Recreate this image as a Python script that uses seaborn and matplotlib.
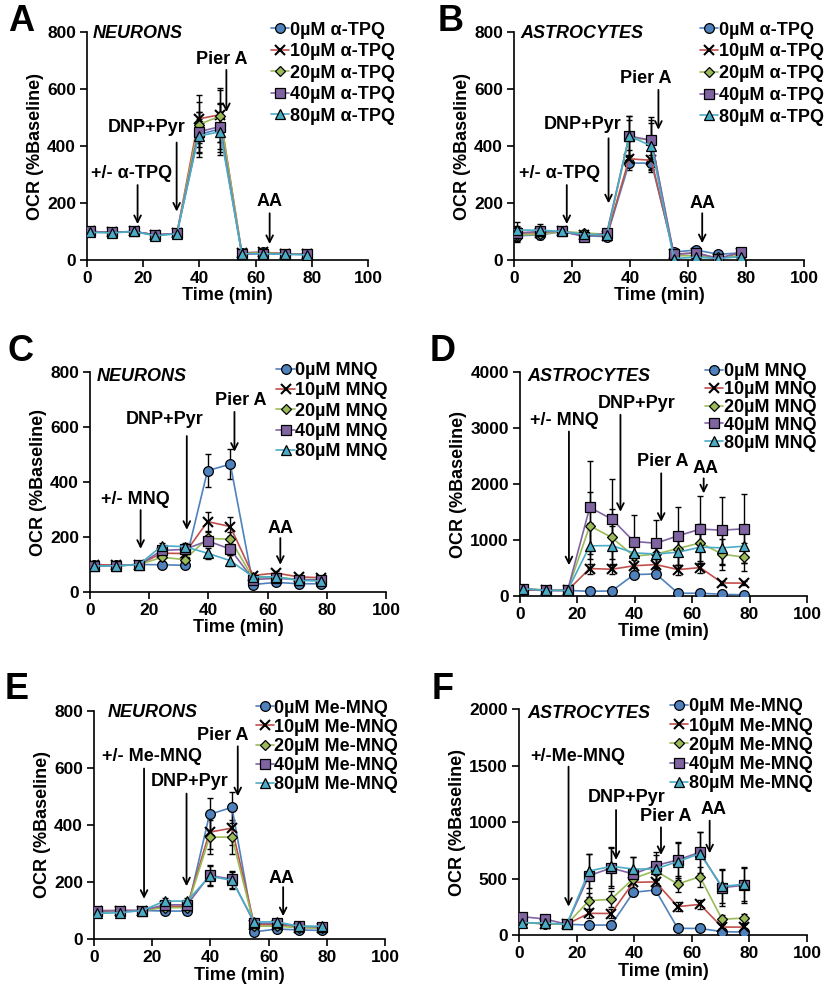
import matplotlib
matplotlib.use("Agg")
import matplotlib.pyplot as plt
import pandas as pd
import seaborn as sns

# measurement times (min), shared by every panel
times = [1.2, 8.9, 16.6, 24.3, 32.0, 39.7, 47.4, 55.1, 62.8, 70.5, 78.2]
doses = ["0µM", "10µM", "20µM", "40µM", "80µM"]
colors = ["#4F81BD", "#C0504D", "#9BBB59", "#8064A2", "#4BACC6"]
marker_list = ["o", "X", "D", "s", "^"]

# panel A - neurons, alpha-TPQ
a_mean = {
    "0µM":  [100, 97, 100, 88, 93, 440, 460, 25, 27, 22, 20],
    "10µM": [100, 97, 100, 88, 93, 495, 510, 25, 27, 22, 20],
    "20µM": [98, 96, 100, 87, 92, 475, 505, 22, 25, 21, 20],
    "40µM": [100, 97, 100, 88, 93, 450, 468, 20, 22, 20, 20],
    "80µM": [97, 95, 100, 85, 92, 435, 450, 22, 22, 20, 18],
}
a_err = {
    "0µM":  [8, 6, 4, 6, 6, 80, 90, 6, 6, 5, 5],
    "10µM": [8, 6, 4, 6, 6, 85, 95, 6, 6, 5, 5],
    "20µM": [8, 6, 4, 6, 6, 80, 90, 6, 6, 5, 5],
    "40µM": [8, 6, 4, 6, 6, 70, 80, 6, 6, 5, 5],
    "80µM": [8, 6, 4, 6, 6, 60, 70, 6, 6, 5, 5],
}

# panel B - astrocytes, alpha-TPQ
b_mean = {
    "0µM":  [85, 88, 100, 85, 82, 340, 340, 28, 35, 20, 25],
    "10µM": [95, 95, 100, 88, 85, 355, 350, 20, 25, 5, 25],
    "20µM": [88, 90, 100, 95, 90, 430, 420, 15, 15, 10, 15],
    "40µM": [95, 100, 100, 82, 95, 435, 420, 20, 25, 5, 28],
    "80µM": [105, 105, 100, 90, 88, 435, 400, 5, 10, 5, 12],
}
b_err = {
    "0µM":  [20, 15, 5, 10, 10, 25, 30, 8, 8, 6, 8],
    "10µM": [20, 15, 5, 10, 10, 30, 35, 8, 8, 6, 8],
    "20µM": [25, 15, 5, 10, 10, 60, 70, 8, 8, 6, 8],
    "40µM": [25, 15, 5, 10, 10, 70, 80, 8, 8, 6, 8],
    "80µM": [30, 20, 5, 10, 10, 70, 80, 8, 8, 6, 8],
}

# panel C - neurons, MNQ
c_mean = {
    "0µM":  [100, 97, 100, 99, 97, 441, 465, 27, 35, 30, 30],
    "10µM": [100, 97, 100, 141, 140, 256, 238, 60, 69, 55, 52],
    "20µM": [95, 95, 100, 126, 118, 195, 192, 50, 55, 45, 45],
    "40µM": [95, 95, 100, 151, 155, 186, 156, 45, 50, 45, 45],
    "80µM": [95, 95, 100, 168, 165, 141, 114, 55, 55, 42, 40],
}
c_err = {
    "0µM":  [6, 5, 3, 5, 5, 60, 55, 5, 5, 5, 5],
    "10µM": [6, 5, 3, 12, 12, 35, 35, 8, 8, 6, 6],
    "20µM": [6, 5, 3, 12, 12, 25, 25, 8, 8, 6, 6],
    "40µM": [6, 5, 3, 12, 12, 20, 20, 8, 8, 6, 6],
    "80µM": [6, 5, 3, 12, 12, 20, 20, 8, 8, 6, 6],
}

# panel D - astrocytes, MNQ
d_mean = {
    "0µM":  [110, 100, 100, 84, 90, 382, 394, 48, 50, 30, 20],
    "10µM": [110, 100, 100, 490, 478, 540, 561, 472, 507, 233, 230],
    "20µM": [130, 110, 100, 1254, 1045, 710, 750, 848, 949, 746, 693],
    "40µM": [130, 100, 100, 1582, 1373, 973, 943, 1075, 1194, 1176, 1200],
    "80µM": [130, 100, 100, 896, 900, 770, 750, 782, 872, 860, 890],
}
d_err = {
    "0µM":  [30, 20, 10, 20, 20, 60, 60, 20, 20, 15, 15],
    "10µM": [30, 20, 10, 90, 90, 100, 100, 90, 90, 40, 40],
    "20µM": [30, 20, 10, 600, 500, 300, 250, 300, 330, 280, 250],
    "40µM": [30, 20, 10, 830, 720, 470, 420, 520, 600, 600, 615],
    "80µM": [30, 20, 10, 400, 350, 250, 250, 280, 300, 300, 300],
}

# panel E - neurons, Me-MNQ
e_mean = {
    "0µM":  [95, 97, 100, 98, 98, 437, 462, 25, 35, 32, 30],
    "10µM": [100, 100, 100, 115, 115, 375, 389, 50, 50, 40, 40],
    "20µM": [95, 97, 100, 110, 110, 357, 358, 45, 45, 40, 38],
    "40µM": [97, 100, 100, 120, 120, 223, 210, 55, 55, 45, 42],
    "80µM": [90, 92, 100, 133, 133, 220, 206, 60, 60, 45, 45],
}
e_err = {
    "0µM":  [6, 5, 3, 6, 6, 58, 55, 6, 6, 5, 5],
    "10µM": [6, 5, 3, 8, 8, 60, 60, 8, 8, 6, 6],
    "20µM": [6, 5, 3, 8, 8, 60, 60, 8, 8, 6, 6],
    "40µM": [6, 5, 3, 10, 10, 35, 30, 10, 8, 6, 6],
    "80µM": [6, 5, 3, 10, 10, 35, 30, 10, 8, 6, 6],
}

# panel F - astrocytes, Me-MNQ
f_mean = {
    "0µM":  [110, 100, 95, 88, 88, 378, 398, 59, 58, 30, 25],
    "10µM": [110, 100, 95, 192, 190, 466, 470, 251, 271, 70, 70],
    "20µM": [110, 100, 95, 304, 316, 500, 570, 451, 516, 139, 150],
    "40µM": [162, 142, 95, 525, 593, 540, 614, 664, 732, 419, 440],
    "80µM": [110, 105, 95, 566, 608, 584, 584, 650, 720, 430, 450],
}
f_err = {
    "0µM":  [20, 15, 10, 15, 15, 30, 30, 15, 15, 10, 10],
    "10µM": [20, 15, 10, 40, 40, 60, 60, 40, 40, 30, 30],
    "20µM": [20, 15, 10, 70, 70, 80, 80, 70, 90, 40, 40],
    "40µM": [25, 20, 10, 190, 180, 150, 120, 160, 180, 160, 155],
    "80µM": [25, 20, 10, 150, 170, 110, 120, 160, 190, 150, 150],
}

sns.set_style("ticks")
plt.rcParams["font.family"] = ["Liberation Sans", "DejaVu Sans"]
plt.rcParams["font.weight"] = "bold"
plt.rcParams["axes.labelweight"] = "bold"
for key in ["text.color", "axes.labelcolor", "xtick.color", "ytick.color", "axes.edgecolor"]:
    plt.rcParams[key] = "black"

fig = plt.figure(figsize=(8.28, 9.97), dpi=100)
W, H = 828, 997


def add_axes(left, right, top, bottom):
    return fig.add_axes([left / W, 1 - bottom / H, (right - left) / W, (bottom - top) / H])


panels = [
    dict(box=(87, 368, 32, 260), mean=a_mean, err=a_err, drug="α-TPQ", cell="NEURONS",
         ymax=800, ystep=200, letter="A", lpos=(8, 4), leg=(0.655, 1.045), lsp=0.25,
         cellpos=(2, 796),
         notes=[("+/- α-TPQ", 15.9, 304, 18, 263, 126),
                ("DNP+Pyr", 21.3, 465, 31.9, 412, 170),
                ("Pier A", 48, 703, 49.6, 667, 519),
                ("AA", 65, 205, 65, 164, 56)]),
    dict(box=(514, 804, 32, 260), mean=b_mean, err=b_err, drug="α-TPQ", cell="ASTROCYTES",
         ymax=800, ystep=200, letter="B", lpos=(438, 4), leg=(0.64, 1.045), lsp=0.26,
         cellpos=(2.3, 796),
         notes=[("+/- α-TPQ", 15.6, 304, 18.2, 263, 126),
                ("DNP+Pyr", 23.8, 474, 32.6, 427, 199),
                ("Pier A", 45.6, 638, 49.8, 597, 457),
                ("AA", 64.9, 199, 64.9, 164, 59)]),
    dict(box=(90, 386, 372, 592), mean=c_mean, err=c_err, drug="MNQ", cell="NEURONS",
         ymax=800, ystep=200, letter="C", lpos=(8, 334), leg=(0.63, 1.045), lsp=0.18,
         cellpos=(2.3, 782),
         notes=[("+/- MNQ", 15.4, 335, 17.1, 298, 157),
                ("DNP+Pyr", 25.1, 627, 32.7, 567, 226),
                ("Pier A", 51, 697, 48.8, 655, 510),
                ("AA", 64.5, 230, 64.3, 196, 99)]),
    dict(box=(520, 807, 372, 596), mean=d_mean, err=d_err, drug="MNQ", cell="ASTROCYTES",
         ymax=4000, ystep=1000, letter="D", lpos=(430, 334), leg=(0.645, 1.04), lsp=0.05,
         cellpos=(2.5, 3922),
         notes=[("+/- MNQ", 15.5, 3134, 17.05, 2937, 549),
                ("DNP+Pyr", 40.7, 3433, 35, 3236, 1504),
                ("Pier A", 49.8, 2400, 49.2, 2191, 1325),
                ("AA", 64.7, 2280, 64, 2101, 1833)]),
    dict(box=(94, 385, 711, 939), mean=e_mean, err=e_err, drug="Me-MNQ", cell="NEURONS",
         ymax=800, ystep=200, letter="E", lpos=(5, 672), leg=(0.555, 1.05), lsp=0.12,
         cellpos=(4.6, 796),
         notes=[("+/- Me-MNQ", 19.8, 639, 17.2, 598, 141),
                ("DNP+Pyr", 33, 551, 31.8, 510, 185),
                ("Pier A", 44.2, 715, 49.4, 676, 501),
                ("AA", 64.5, 212, 65, 182, 80)]),
    dict(box=(519, 807, 709, 935), mean=f_mean, err=f_err, drug="Me-MNQ", cell="ASTROCYTES",
         ymax=2000, ystep=500, letter="F", lpos=(432, 672), leg=(0.525, 1.047), lsp=0.12,
         cellpos=(3, 1961),
         notes=[("+/-Me-MNQ", 20.5, 1578, 17.2, 1490, 251),
                ("DNP+Pyr", 37.2, 1215, 33.7, 1106, 664),
                ("Pier A", 50.9, 1047, 49.3, 953, 708),
                ("AA", 67.4, 1112, 66.2, 1012, 723)]),
]

marker_sizes = {"o": 7, "X": 6.5, "D": 5, "s": 7.5, "^": 7}

for p in panels:
    ax = add_axes(*p["box"])
    rows = []
    for d in doses:
        for t, v in zip(times, p["mean"][d]):
            rows.append({"time": t, "ocr": v, "dose": d})
    df = pd.DataFrame(rows)

    sns.lineplot(data=df, x="time", y="ocr", hue="dose", style="dose",
                 palette=colors, markers=marker_list, dashes=False,
                 hue_order=doses, style_order=doses, linewidth=1.2,
                 markeredgecolor="black", markeredgewidth=0.9,
                 legend=False, ax=ax, zorder=3)
    handles = list(ax.lines[:5])
    for h, m in zip(handles, marker_list):
        h.set_markersize(marker_sizes[m])
        if m == "X":
            h.set_marker("x")
            h.set_markeredgewidth(1.5)

    for d in doses:
        ax.errorbar(times, p["mean"][d], yerr=p["err"][d], fmt="none",
                    ecolor="black", elinewidth=1.0, capsize=2, capthick=1.0, zorder=2)

    ax.legend(handles, [f"{d} {p['drug']}" for d in doses], loc="upper left",
              bbox_to_anchor=p["leg"], frameon=False, fontsize=13,
              handlelength=1.0, handletextpad=0.05, labelspacing=p["lsp"],
              borderpad=0, borderaxespad=0)

    for label, tx, ty, ax_x, y0, y1 in p["notes"]:
        ax.text(tx, ty, label, ha="center", va="center", fontsize=13, fontweight="bold")
        ax.annotate("", xy=(ax_x, y1), xytext=(ax_x, y0),
                    arrowprops=dict(arrowstyle="->", lw=1.3, color="black",
                                    shrinkA=0, shrinkB=0, mutation_scale=12))

    ax.text(p["cellpos"][0], p["cellpos"][1], p["cell"], ha="left", va="center",
            fontsize=13, fontweight="bold", fontstyle="italic")

    ax.set_xlim(0, 100)
    ax.set_ylim(0, p["ymax"])
    ax.set_xticks(range(0, 101, 20))
    ax.set_yticks(range(0, p["ymax"] + 1, p["ystep"]))
    ax.set_xlabel("Time (min)", fontsize=13, fontweight="bold", labelpad=1)
    ax.set_ylabel("OCR (%Baseline)", fontsize=13, fontweight="bold", labelpad=2)
    ax.tick_params(labelsize=12.5, length=5, width=1.2, direction="out", pad=3)
    for lab in ax.get_xticklabels() + ax.get_yticklabels():
        lab.set_fontweight("bold")
    sns.despine(ax=ax)
    for s in ["left", "bottom"]:
        ax.spines[s].set_linewidth(1.2)

    fig.text(p["lpos"][0] / W, 1 - p["lpos"][1] / H, p["letter"], ha="left", va="top",
             fontsize=26, fontweight="bold")

fig.savefig("out.png", dpi=100)
